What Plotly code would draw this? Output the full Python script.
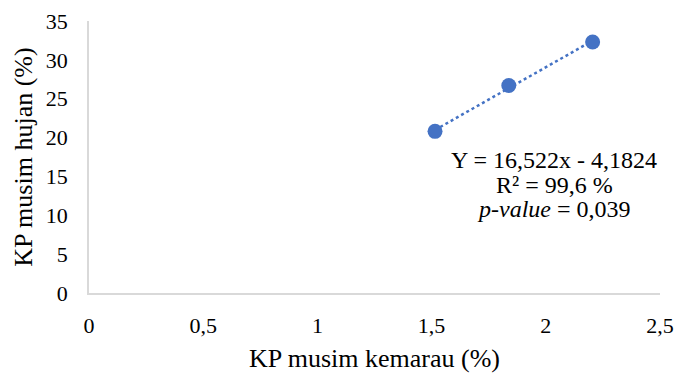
import numpy as np
import plotly.graph_objects as go

kp_kemarau = [1.515, 1.838, 2.205]
kp_hujan = [20.8, 26.7, 32.3]
x_ticks = [0, 0.5, 1, 1.5, 2, 2.5]
x_tick_labels = ["0", "0,5", "1", "1,5", "2", "2,5"]
y_ticks = [0, 5, 10, 15, 20, 25, 30, 35]
eq_lines = ["Y = 16,522x - 4,1824", "R² = 99,6 %", "<i>p-value</i> = 0,039"]
eq_x = 2.038
eq_y = [17.15, 13.95, 10.75]

color = "#4472C4"
font = "Liberation Serif, Times New Roman, serif"

slope, intercept = np.polyfit(kp_kemarau, kp_hujan, 1)
tx = [min(kp_kemarau), max(kp_kemarau)]
ty = [slope * v + intercept for v in tx]

fig = go.Figure()
fig.add_trace(go.Scatter(x=tx, y=ty, mode="lines",
                         line=dict(color=color, width=2.5, dash="dot"),
                         hoverinfo="skip", showlegend=False))
fig.add_trace(go.Scatter(x=kp_kemarau, y=kp_hujan, mode="markers",
                         marker=dict(color=color, size=15), showlegend=False))

for txt, yy in zip(eq_lines, eq_y):
    fig.add_annotation(x=eq_x, y=yy, xref="x", yref="y",
                       text=txt, showarrow=False, align="center",
                       font=dict(family=font, size=24, color="#000"))

fig.update_layout(
    width=675, height=374,
    margin=dict(l=89, r=15, t=21, b=81),
    plot_bgcolor="white", paper_bgcolor="white",
    font=dict(family=font, size=22, color="#000"),
    xaxis=dict(range=[0, 2.5], tickvals=x_ticks, ticktext=x_tick_labels,
               showgrid=False, zeroline=False, showline=True,
               linecolor="#d9d9d9", linewidth=1.5, ticks="",
               automargin=False, ticklabelstandoff=12,
               title=dict(text="KP musim kemarau (%)", standoff=12,
                          font=dict(family=font, size=26))),
    yaxis=dict(range=[0, 35], tickvals=y_ticks,
               showgrid=False, zeroline=False, showline=True,
               linecolor="#d9d9d9", linewidth=1.5, ticks="",
               automargin=False, ticklabelstandoff=15,
               title=dict(text="KP musim hujan (%)", standoff=6,
                          font=dict(family=font, size=26))),
)

fig.write_html("out.html", config={"displayModeBar": False},
               post_script="document.body.style.margin='0';document.body.style.overflow='hidden';")
